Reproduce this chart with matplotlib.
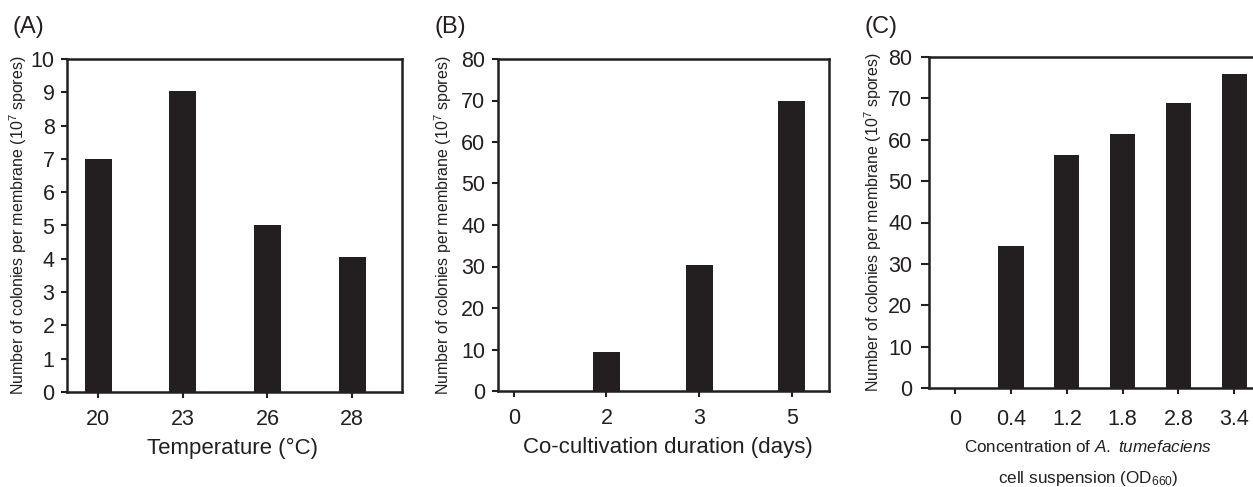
import matplotlib
matplotlib.use("Agg")
import matplotlib.pyplot as plt

plt.rcParams['font.family'] = ['Liberation Sans', 'DejaVu Sans']
plt.rcParams['mathtext.fontset'] = 'custom'
plt.rcParams['mathtext.rm'] = 'Liberation Sans'
plt.rcParams['mathtext.it'] = 'Liberation Sans:italic'
plt.rcParams['mathtext.bf'] = 'Liberation Sans:bold'

W, H = 1253, 487
DPI = 100

# Data
temp_labels = ["20", "23", "26", "28"]
temp_values = [7.0, 9.05, 5.0, 4.05]

days_labels = ["0", "2", "3", "5"]
days_values = [0.0, 9.3, 30.4, 70.0]

od_labels = ["0", "0.4", "1.2", "1.8", "2.8", "3.4"]
od_values = [0.0, 34.3, 56.3, 61.4, 69.0, 76.0]

BAR = '#231f20'
INK = '#231f20'
YLAB = 'Number of colonies per membrane (10$^{7}$ spores)'

fig = plt.figure(figsize=(W / DPI, H / DPI), dpi=DPI)


def px_axes(x0, y0, x1, y1):
    ax = fig.add_axes([x0 / W, 1 - y1 / H, (x1 - x0) / W, (y1 - y0) / H])
    return ax, (x0, y0, x1, y1)


def style(ax, xpad=6, ypad=4, ylen=4):
    for s in ax.spines.values():
        s.set_linewidth(1.8)
        s.set_color(INK)
    ax.tick_params(axis='x', direction='out', length=4, width=1.5,
                   labelsize=15.5, colors=INK, pad=xpad)
    ax.tick_params(axis='y', direction='out', length=ylen, width=1.5,
                   labelsize=15.5, colors=INK, pad=ypad)


def place_ylabel(ax, box, xpx, text, size=11.5):
    x0, y0, x1, y1 = box
    ax.set_ylabel(text, fontsize=size, color=INK, ha='center', va='center')
    ax.yaxis.set_label_coords((xpx - x0) / (x1 - x0), 0.5)


def place_xlabel(ax, box, xpx, ypx, text, size=16):
    x0, y0, x1, y1 = box
    ax.set_xlabel(text, fontsize=size, color=INK, ha='center', va='center')
    ax.xaxis.set_label_coords((xpx - x0) / (x1 - x0), (y1 - ypx) / (y1 - y0))


# Panel A
axA, boxA = px_axes(67, 59, 402, 392)
xa = list(range(len(temp_values)))
axA.bar(xa, temp_values, width=0.32, color=BAR)
axA.set_xlim(-0.37, 3.59)
axA.set_ylim(0, 10)
axA.set_yticks(range(0, 11))
axA.set_xticks(xa)
axA.set_xticklabels(temp_labels)
style(axA, xpad=8, ypad=5)
place_xlabel(axA, boxA, 233, 448, 'Temperature (°C)')
place_ylabel(axA, boxA, 18, YLAB)
fig.text(13 / W, 1 - 27 / H, '(A)', fontsize=17, va='center', ha='left', color=INK)

# Panel B
axB, boxB = px_axes(498, 59, 829, 391)
xb = list(range(len(days_values)))
axB.bar(xb, days_values, width=0.29, color=BAR)
axB.set_xlim(-0.17, 3.40)
axB.set_ylim(0, 80)
axB.set_yticks(range(0, 81, 10))
axB.set_xticks(xb)
axB.set_xticklabels(days_labels)
style(axB, xpad=8, ypad=5)
place_xlabel(axB, boxB, 668, 448, 'Co-cultivation duration (days)')
place_ylabel(axB, boxB, 443, YLAB)
fig.text(434 / W, 1 - 27 / H, '(B)', fontsize=17, va='center', ha='left', color=INK)

# Panel C
axC, boxC = px_axes(929, 57, 1290, 388)
xc = list(range(len(od_values)))
axC.bar(xc, od_values, width=0.45, color=BAR)
axC.set_xlim(-0.47, 6.0)
axC.set_ylim(0, 80)
axC.set_yticks(range(0, 81, 10))
axC.set_xticks(xc)
axC.set_xticklabels(od_labels)
style(axC, xpad=11, ypad=6, ylen=6)
place_ylabel(axC, boxC, 873, YLAB)
fig.text(1088 / W, 1 - 447 / H,
         'Concentration of $\\mathit{A.\\ tumefaciens}$',
         fontsize=12.3, ha='center', va='center', color=INK)
fig.text(1088 / W, 1 - 478 / H,
         'cell suspension (OD$_{660}$)',
         fontsize=12.3, ha='center', va='center', color=INK)
fig.text(864 / W, 1 - 27 / H, '(C)', fontsize=17, va='center', ha='left', color=INK)

fig.savefig('out.png', dpi=DPI)
